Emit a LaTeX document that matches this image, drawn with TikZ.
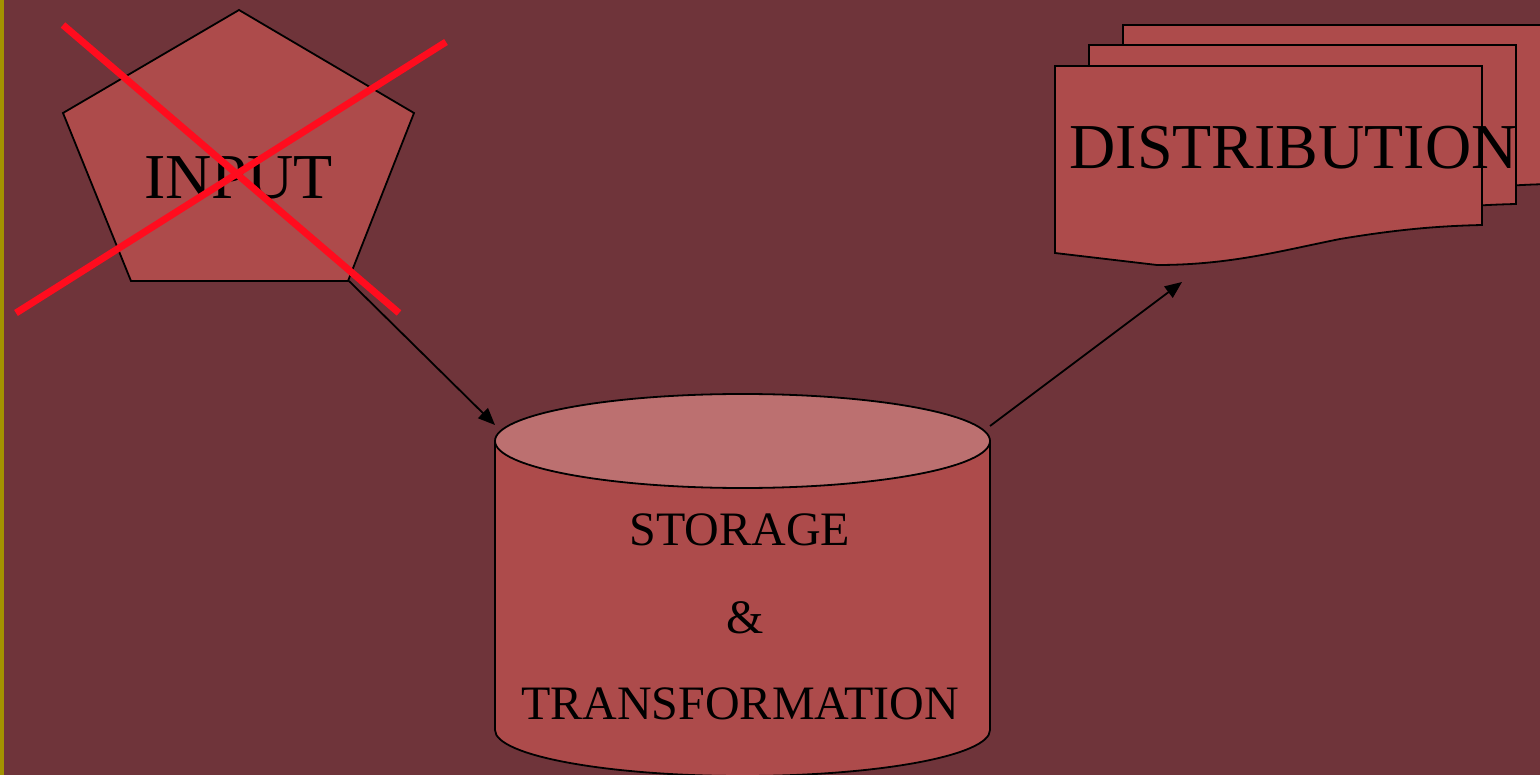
\documentclass[tikz,border=0pt]{standalone}
\usepackage{fontspec}
\setmainfont{Liberation Serif}
\usetikzlibrary{arrows.meta}
\definecolor{bgmaroon}{RGB}{111,52,58}
\definecolor{shapefill}{RGB}{173,75,75}
\definecolor{captop}{RGB}{188,112,112}
\definecolor{crossred}{RGB}{255,12,30}
\definecolor{edgeolive}{RGB}{163,146,0}
\tikzset{
  shapeline/.style={draw=black, line width=1.8pt, fill=shapefill, line join=miter},
  flow/.style={draw=black, line width=1.8pt, -{Triangle[length=17pt,width=14pt]}},
  strike/.style={draw=crossred, line width=7pt},
  bigtext/.style={font=\fontsize{64}{64}\selectfont, anchor=base, inner sep=0pt},
  midtext/.style={font=\fontsize{48}{48}\selectfont, anchor=base, inner sep=0pt},
  docpage/.pic={
    \path[shapeline] (0,0) -- (427,0) -- (427,159)
      .. controls (385,160) and (345,163) .. (285,173)
      .. controls (225,185) and (175,199) .. (102,199)
      -- (0,187) -- cycle;
  },
}
\begin{document}
\begin{tikzpicture}[x=1pt,y=-1pt]
  \useasboundingbox (0,0) rectangle (1540,775);
  \clip (0,0) rectangle (1540,775);
  % page background and left rule
  \fill[bgmaroon] (0,0) rectangle (1540,775);
  \fill[edgeolive] (0,0) rectangle (3.5,775);

  % input pentagon
  \path[shapeline] (239,10) -- (414,113) -- (348,281) -- (131,281) -- (63,113) -- cycle;
  \node[bigtext] (input) at (238.5,199) {INPUT};
  \coordinate (inputcorner) at (349,281);

  % storage cylinder
  \path[shapeline] (495,441) -- (495,730) arc[start angle=180, end angle=360, x radius=247.5, y radius=-46] -- (990,441) -- cycle;
  \path[shapeline, fill=captop] (742.5,441) ellipse[x radius=247.5, y radius=47];
  \node[midtext] (storage) at (740,545) {STORAGE};
  \node[midtext] (amp) at (745,633) {\&};
  \node[midtext] (transform) at (740,719) {TRANSFORMATION};
  \coordinate (cyltopleft) at (495,425);
  \coordinate (cyltopright) at (990,426);

  % stacked distribution documents
  \pic at (1123,25) {docpage};
  \pic at (1089,45) {docpage};
  \pic at (1055,66) {docpage};
  \node[bigtext] (distribution) at (1293.5,169) {DISTRIBUTION};
  \coordinate (docbelow) at (1182,282);

  % data flow
  \draw[flow] (inputcorner) -- (cyltopleft);
  \draw[flow] (cyltopright) -- (docbelow);

  % input struck out
  \draw[strike] (63,25) -- (399,313);
  \draw[strike] (16,313) -- (446,42);
\end{tikzpicture}
\end{document}
